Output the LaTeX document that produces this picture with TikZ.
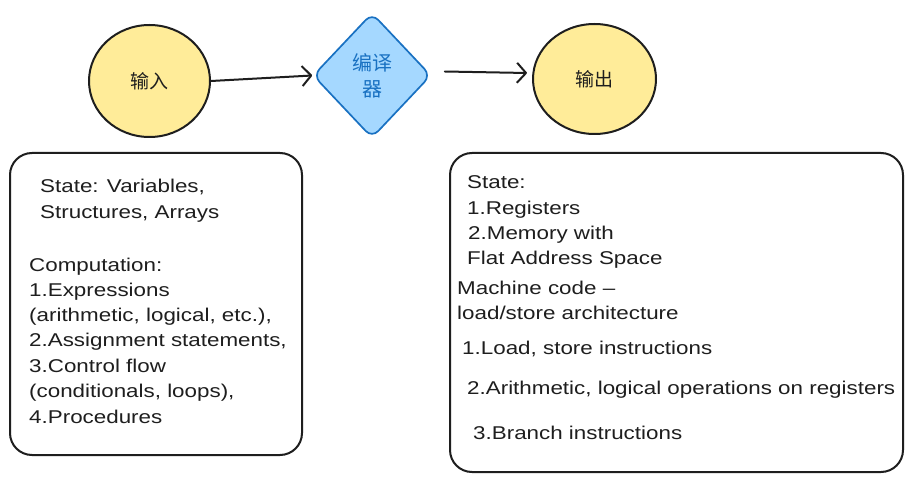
\documentclass[tikz,border=0pt]{standalone}
\usepackage{fontspec}
\setmainfont{Liberation Sans}
\newfontfamily\boxfont[FakeStretch=1.21]{Liberation Sans}
\newfontfamily\cjk{Noto Sans CJK SC}
\usetikzlibrary{shapes.geometric,arrows.meta}
\definecolor{ink}{HTML}{1E1E1E}
\definecolor{yel}{HTML}{FFEC99}
\definecolor{bluefill}{HTML}{A5D8FF}
\definecolor{bluestroke}{HTML}{1971C2}
\tikzset{
  circ/.style={ellipse, draw=ink, fill=yel, line width=2pt, inner sep=0pt,
    font=\cjk\fontsize{19}{24}\selectfont, text=ink},
  decision/.style={diamond, draw=bluestroke, fill=bluefill, line width=1.7pt,
    rounded corners=9pt, inner sep=0pt, minimum width=118pt, minimum height=125pt,
    font=\cjk\fontsize{20}{26}\selectfont, text=bluestroke, align=center},
  panel/.style={draw=ink, line width=2pt, rounded corners=22pt, inner sep=0pt},
  lbl/.style={anchor=base west, inner sep=0pt, text=ink,
    font=\boxfont\fontsize{18.5}{24}\selectfont},
  flow/.style={draw=ink, line width=2pt, line cap=round,
    -{Straight Barb[length=9pt,width=20pt,line join=round]}},
}
\begin{document}
\begin{tikzpicture}[x=1pt,y=-1pt]
\useasboundingbox (0,0) rectangle (912,481);
\fill[white] (0,0) rectangle (912,481);

% top flow
\node[circ, minimum width=121pt, minimum height=112pt] (in) at (149.5,81) {输入};
\node[decision] (comp) at (372,75.5) {编译\\器};
\node[circ, minimum width=123pt, minimum height=110pt] (out) at (594.5,79) {输出};

\draw[flow] (in.east) -- (comp.west);
\draw[flow] ([xshift=13pt,yshift=4pt]comp.east) -- ([xshift=-5pt,yshift=6pt]out.west);

% panels
\node[panel, minimum width=292pt, minimum height=302pt] (lbox) at (156,304) {};
\node[panel, minimum width=453pt, minimum height=319pt] (rbox) at (676.5,312.5) {};

% left panel text
\node[lbl] (l1) at (40,193) {State: Variables,};
\node[lbl] (l2) at (40,218) {Structures, Arrays};
\node[lbl] (l3) at (29,271) {Computation:};
\node[lbl] (l4) at (29,296) {1.Expressions};
\node[lbl] (l5) at (29,321) {(arithmetic, logical, etc.),};
\node[lbl] (l6) at (29,346) {2.Assignment statements,};
\node[lbl] (l7) at (29,372) {3.Control flow};
\node[lbl] (l8) at (29,397) {(conditionals, loops),};
\node[lbl] (l9) at (29,423) {4.Procedures};

% right panel text
\node[lbl] (r1) at (467,189) {State:};
\node[lbl] (r2) at (467,214) {1.Registers};
\node[lbl] (r3) at (468,239) {2.Memory with};
\node[lbl] (r4) at (467,264) {Flat Address Space};
\node[lbl] (r5) at (457,294) {Machine code –};
\node[lbl] (r6) at (457,319) {load/store architecture};
\node[lbl] (r7) at (462,354) {1.Load, store instructions};
\node[lbl] (r8) at (467,394) {2.Arithmetic, logical operations on registers};
\node[lbl] (r9) at (473,439) {3.Branch instructions};
\end{tikzpicture}
\end{document}
